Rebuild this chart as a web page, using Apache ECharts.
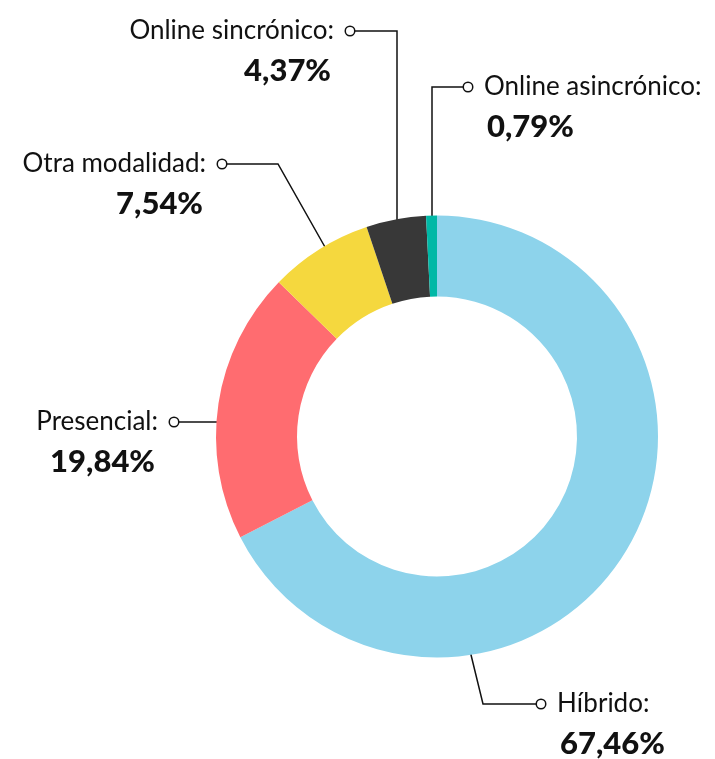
<!DOCTYPE html>
<html>
<head>
<meta charset="utf-8">
<script src="https://cdn.jsdelivr.net/npm/echarts@6/dist/echarts.min.js"></script>
<style>
  html, body { margin: 0; padding: 0; background: #fff; }
  #main { width: 715px; height: 759px; }
</style>
</head>
<body>
<div id="main"></div>
<script>
// datos
const categories = ['Híbrido', 'Presencial', 'Otra modalidad', 'Online sincrónico', 'Online asincrónico'];
const values = [67.46, 19.84, 7.54, 4.37, 0.79];
const colors = ['#8dd3eb', '#ff6c70', '#f5d83e', '#383838', '#00b8a6'];

// posición de etiquetas (lado, punto del círculo, puntos de la línea)
const labelPos = [
  { side: 'right', dot: [542, 704], line: [[462, 618], [483, 704], [537, 704]] },
  { side: 'left',  dot: [173, 422], line: [[251, 422], [210, 422], [178, 422]] },
  { side: 'left',  dot: [221, 164], line: [[334, 263], [278, 164], [226, 164]] },
  { side: 'left',  dot: [349, 31],  line: [[397, 245], [397, 31], [354, 31]] },
  { side: 'right', dot: [469, 87],  line: [[432, 242], [432, 87], [464, 87]] }
];

const fmt = v => v.toFixed(2).replace('.', ',') + '%';

let myChart = echarts.init(document.getElementById('main'));
myChart.setOption({
  animation: false,
  textStyle: { fontFamily: 'Lato', color: '#111' },
  series: [{
    type: 'pie',
    center: [437, 436.5],
    radius: [140, 221],
    startAngle: 90,
    clockwise: true,
    avoidLabelOverlap: false,
    silent: true,
    itemStyle: { borderWidth: 0 },
    label: {
      show: true,
      position: 'outside',
      formatter: p => {
        const pos = labelPos[p.dataIndex];
        if (pos.side === 'left') {
          return '{n|' + p.name + ':}{g|}{d|}\n{v|' + fmt(p.value) + '}{s|}';
        }
        return '{d|}{g|}{n|' + p.name + ':}\n{s|}{v|' + fmt(p.value) + '}';
      },
      rich: {
        n: { fontFamily: 'Lato', fontSize: 26, color: '#111', lineHeight: 36 },
        v: { fontFamily: 'Lato', fontSize: 31, fontWeight: 900, color: '#111', lineHeight: 44 },
        g: { width: 12 },
        s: { width: 23 },
        d: { width: 8, height: 8, borderRadius: 5, borderColor: '#111', borderWidth: 1.5, backgroundColor: '#fff' }
      }
    },
    labelLine: {
      show: true,
      lineStyle: { color: '#111', width: 1.5 }
    },
    labelLayout: params => {
      const pos = labelPos[params.dataIndex];
      const x = pos.side === 'left' ? pos.dot[0] + 5 : pos.dot[0] - 5;
      return {
        x: x,
        y: pos.dot[1] - 18,
        align: pos.side === 'left' ? 'right' : 'left',
        verticalAlign: 'top',
        labelLinePoints: pos.line
      };
    },
    data: categories.map((c, i) => ({
      name: c,
      value: values[i],
      itemStyle: { color: colors[i] }
    }))
  }]
});
</script>
</body>
</html>
